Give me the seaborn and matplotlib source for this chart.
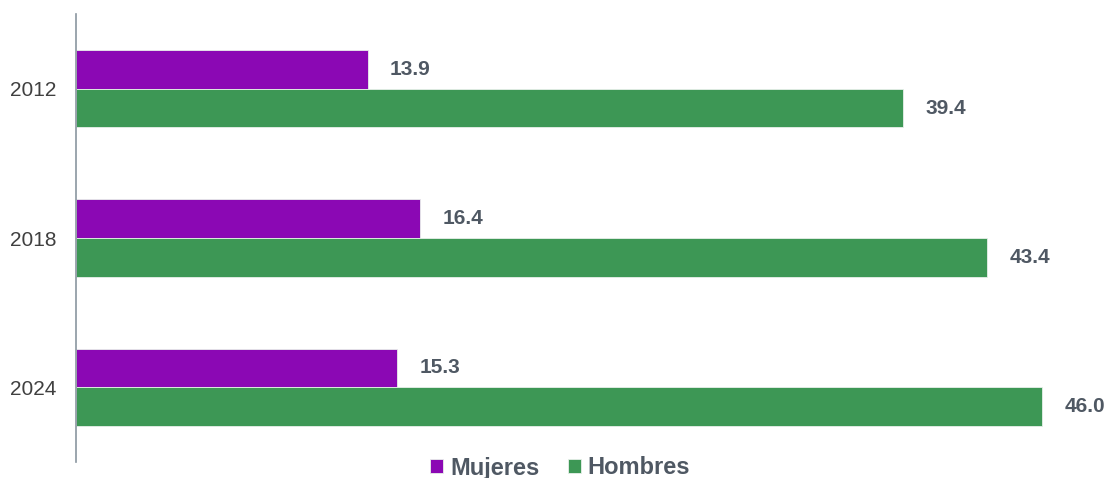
import pandas as pd
import seaborn as sns
import matplotlib.pyplot as plt

# --- Data ---
YEARS = ['2012', '2018', '2024']
MUJERES = [13.9, 16.4, 15.3]
HOMBRES = [39.4, 43.4, 46.0]
SERIES = ['Mujeres', 'Hombres']

PALETTE = {'Mujeres': '#8B08B4', 'Hombres': '#3D9755'}
TEXT_COLOR = '#4F5863'


def build_frame() -> pd.DataFrame:
    rows = []
    for year, m, h in zip(YEARS, MUJERES, HOMBRES):
        rows.append({'Año': year, 'Sexo': 'Mujeres', 'Valor': m})
        rows.append({'Año': year, 'Sexo': 'Hombres', 'Valor': h})
    return pd.DataFrame(rows)


def main():
    df = build_frame()
    sns.set_style('white')
    plt.rcParams['font.family'] = ['Liberation Sans', 'DejaVu Sans']

    fig = plt.figure(figsize=(11.06, 4.78), dpi=100)
    ax = fig.add_axes([76 / 1106, 16 / 478, 1 - 76 / 1106, 448 / 478])

    sns.barplot(data=df, y='Año', x='Valor', hue='Sexo', hue_order=SERIES,
                order=YEARS, palette=PALETTE, orient='h', width=0.52,
                saturation=1, ax=ax, legend=True, linewidth=0.6,
                edgecolor='#E8F0EA')

    for container in ax.containers:
        ax.bar_label(container, fmt='%.1f', padding=16, fontsize=15,
                     fontweight='bold', color=TEXT_COLOR)

    ax.set_xlim(0, 49.05)
    ax.set_ylim(2.5, -0.5)
    ax.set_xlabel('')
    ax.set_ylabel('')
    ax.set_xticks([])
    ax.tick_params(axis='y', length=0, pad=14, labelsize=15, labelcolor='#404040')

    for side in ['top', 'right', 'bottom']:
        ax.spines[side].set_visible(False)
    ax.spines['left'].set_color('#8A96A0')
    ax.spines['left'].set_linewidth(1.2)

    handles, labels = ax.get_legend_handles_labels()
    ax.get_legend().remove()
    fig.legend(handles, labels, loc='center', bbox_to_anchor=(560 / 1106, 10 / 478),
               ncol=2, frameon=False, handlelength=0.55, handleheight=0.55,
               handletextpad=0.3, columnspacing=1.2,
               prop={'size': 17, 'weight': 'bold'}, labelcolor=TEXT_COLOR)

    fig.savefig('out.png', dpi=100)
    plt.close(fig)


if __name__ == '__main__':
    main()
